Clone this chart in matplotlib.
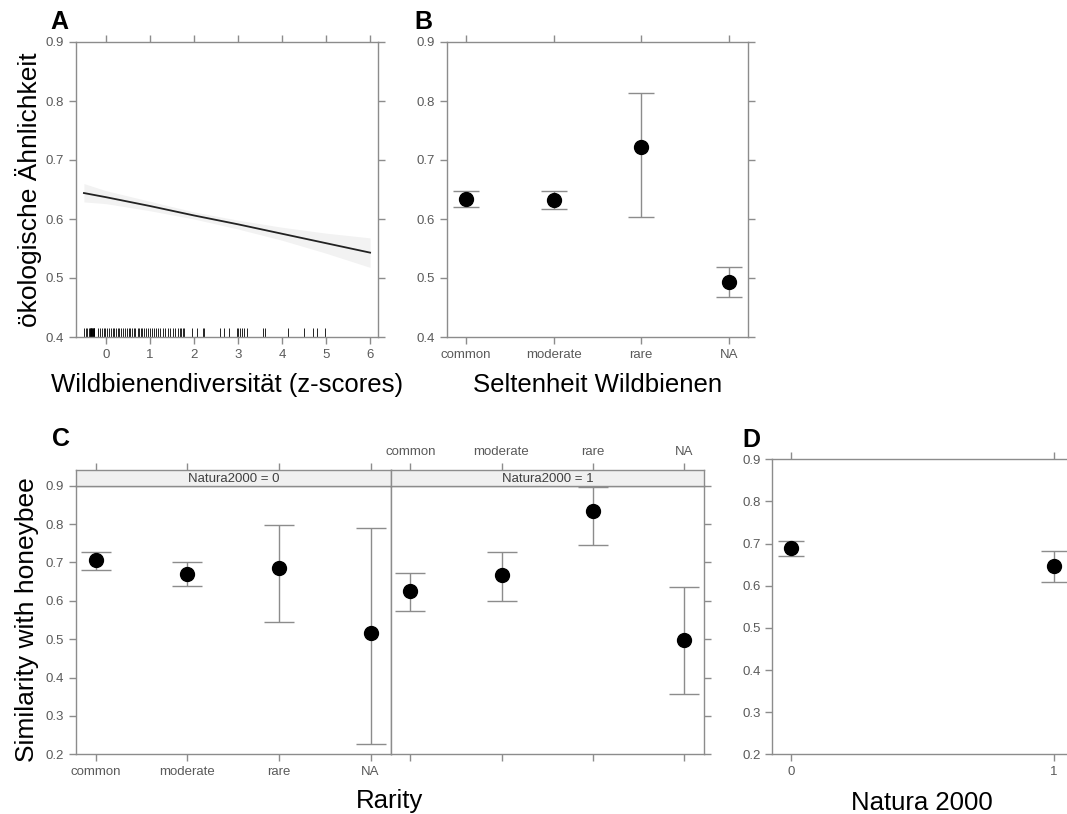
import matplotlib
matplotlib.use('Agg')
import matplotlib.pyplot as plt

plt.rcParams['font.family'] = ['Liberation Sans', 'DejaVu Sans']

# ---- data ----
# panel A: fitted line + confidence band, rug of observations
a_x = [-0.5, 0, 1, 2, 3, 4, 5, 6]
a_fit = [0.644, 0.637, 0.622, 0.606, 0.591, 0.575, 0.559, 0.543]
a_lo = [0.629, 0.626, 0.614, 0.600, 0.583, 0.564, 0.542, 0.518]
a_hi = [0.660, 0.648, 0.630, 0.612, 0.598, 0.586, 0.576, 0.568]
a_rug = [-0.49, -0.45, -0.42, -0.38, -0.37, -0.36, -0.35, -0.34, -0.33, -0.32, -0.31,
         -0.30, -0.29, -0.28, -0.27, -0.26, -0.19, -0.14, -0.10, -0.05, -0.02, 0.02,
         0.08, 0.11, 0.15, 0.19, 0.23, 0.27, 0.30, 0.34, 0.38, 0.44, 0.47, 0.52, 0.55,
         0.59, 0.63, 0.67, 0.72, 0.76, 0.80, 0.83, 0.87, 0.91, 0.95, 1.00, 1.05, 1.10,
         1.14, 1.19, 1.23, 1.29, 1.35, 1.40, 1.45, 1.52, 1.57, 1.63, 1.68, 1.70, 1.74,
         1.78, 1.96, 2.06, 2.20, 2.23, 2.58, 2.69, 2.80, 2.97, 2.99, 3.05, 3.09, 3.14,
         3.20, 3.56, 3.61, 4.14, 4.51, 4.70, 4.80, 4.97]

# panel B
rarity = ['common', 'moderate', 'rare', 'NA']
b_fit = [0.634, 0.633, 0.722, 0.493]
b_lo = [0.621, 0.617, 0.604, 0.467]
b_hi = [0.647, 0.647, 0.814, 0.519]

# panel C (Natura2000 = 0 / 1)
c0_fit = [0.706, 0.671, 0.686, 0.516]
c0_lo = [0.681, 0.639, 0.545, 0.227]
c0_hi = [0.726, 0.700, 0.798, 0.791]
c1_fit = [0.625, 0.667, 0.834, 0.498]
c1_lo = [0.573, 0.600, 0.745, 0.356]
c1_hi = [0.672, 0.728, 0.897, 0.637]

# panel D
natura = ['0', '1']
d_fit = [0.690, 0.648]
d_lo = [0.670, 0.609]
d_hi = [0.706, 0.682]

W, H = 1067, 814
fig = plt.figure(figsize=(W / 100, H / 100), dpi=100)

grey = '#8c8c8c'
tcol = '#5a5a5a'
big = 18.5


def box(l, t, r, b):
    return [l / W, 1 - b / H, (r - l) / W, (b - t) / H]


def style(ax, left=True, right=True, top=True, bottom=True, lleft=True, lbottom=True, ltop=False):
    for s in ax.spines.values():
        s.set_color(grey)
        s.set_linewidth(1)
    ax.tick_params(direction='out', length=5, width=1, color=grey, labelcolor=tcol,
                   labelsize=9.5, left=left, right=right, top=top, bottom=bottom,
                   labelleft=lleft, labelbottom=lbottom, labeltop=ltop, labelright=False)


def errs(ax, xs, fit, lo, hi, cap):
    yerr = [[f - l for f, l in zip(fit, lo)], [h - f for f, h in zip(fit, hi)]]
    ax.errorbar(xs, fit, yerr=yerr, fmt='none', ecolor=grey, elinewidth=1,
                capsize=cap, capthick=1, zorder=2)
    ax.plot(xs, fit, 'o', color='black', markersize=10, zorder=3)


# ---- A ----
axA = fig.add_axes(box(76, 42, 378, 337))
axA.fill_between(a_x, a_lo, a_hi, color='#f2f2f2', lw=0)
axA.plot(a_x, a_fit, color='#222222', lw=1.3)
axA.vlines(a_rug, 0.4, 0.416, color='black', lw=0.6)
axA.set_xlim(-0.68, 6.18)
axA.set_ylim(0.4, 0.9)
axA.set_xticks(range(0, 7))
axA.set_yticks([0.4, 0.5, 0.6, 0.7, 0.8, 0.9])
axA.set_yticklabels(['0.4', '0.5', '0.6', '0.7', '0.8', '0.9'])
style(axA)
axA.set_xlabel('Wildbienendiversität (z-scores)', fontsize=big, labelpad=9)
axA.set_ylabel('ökologische Ähnlichkeit', fontsize=big + 0.5, labelpad=3)

# ---- B ----
axB = fig.add_axes(box(446.7, 42, 748, 337))
xs = list(range(1, 5))
errs(axB, xs, b_fit, b_lo, b_hi, 9.7)
axB.set_xlim(0.78, 4.22)
axB.set_ylim(0.4, 0.9)
axB.set_xticks(xs)
axB.set_xticklabels(rarity)
axB.set_yticks([0.4, 0.5, 0.6, 0.7, 0.8, 0.9])
axB.set_yticklabels(['0.4', '0.5', '0.6', '0.7', '0.8', '0.9'])
style(axB)
axB.set_xlabel('Seltenheit Wildbienen', fontsize=big, labelpad=9)

# ---- C ----
yC = [0.2, 0.3, 0.4, 0.5, 0.6, 0.7, 0.8, 0.9]
axC0 = fig.add_axes(box(76, 485.7, 390.7, 754.3))
errs(axC0, xs, c0_fit, c0_lo, c0_hi, 10.5)
axC0.set_xlim(0.785, 4.22)
axC0.set_ylim(0.2, 0.9)
axC0.set_xticks(xs)
axC0.set_xticklabels(rarity)
axC0.set_yticks(yC)
axC0.set_yticklabels([str(v) for v in yC])
style(axC0, right=False, top=False)

axC1 = fig.add_axes(box(390.7, 485.7, 704, 754.3))
errs(axC1, xs, c1_fit, c1_lo, c1_hi, 10.5)
axC1.set_xlim(0.785, 4.22)
axC1.set_ylim(0.2, 0.9)
axC1.set_xticks(xs)
axC1.set_yticks(yC)
style(axC1, left=False, top=False, lleft=False, lbottom=False)

for axm, lab, l, r, show in [(axC0, 'Natura2000 = 0', 76, 390.7, False),
                             (axC1, 'Natura2000 = 1', 390.7, 704, True)]:
    st = fig.add_axes(box(l, 470, r, 485.7))
    st.set_facecolor('#f0f0f0')
    st.set_xlim(axm.get_xlim())
    st.set_ylim(0, 1)
    st.set_xticks(xs)
    st.set_xticklabels(rarity)
    st.set_yticks([])
    style(st, left=False, right=False, bottom=False, top=True,
          lleft=False, lbottom=False, ltop=show)
    st.text(0.5, 0.45, lab, transform=st.transAxes, ha='center', va='center',
            fontsize=9.5, color='#404040')

fig.text(27 / W, 1 - 620 / H, 'Similarity with honeybee', rotation=90,
         ha='center', va='center', fontsize=big + 0.5)
fig.text(390 / W, 1 - 801 / H, 'Rarity', ha='center', va='center', fontsize=big)

# ---- D ----
axD = fig.add_axes(box(772.3, 459.3, 1072, 754.3))
errs(axD, [0, 1], d_fit, d_lo, d_hi, 9.5)
axD.set_xlim(-0.07, 1.07)
axD.set_ylim(0.2, 0.9)
axD.set_xticks([0, 1])
axD.set_xticklabels(natura)
axD.set_yticks(yC)
axD.set_yticklabels([str(v) for v in yC])
style(axD, right=False)
axD.spines['right'].set_visible(False)
axD.set_xlabel('Natura 2000', fontsize=big, labelpad=9)

# panel letters
for lab, x, y in [('A', 50, 22), ('B', 414, 22), ('C', 52, 439), ('D', 742, 440)]:
    fig.text(x / W, 1 - y / H, lab, fontsize=18, fontweight='bold', ha='left', va='center')

fig.savefig('out.png', dpi=100)
